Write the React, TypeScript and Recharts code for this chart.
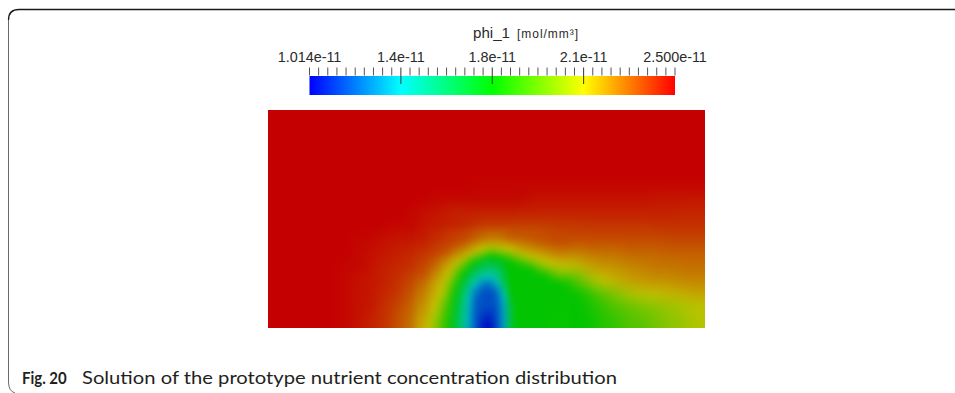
import {
  ScatterChart,
  Scatter,
  BarChart,
  Bar,
  XAxis,
  YAxis,
} from "recharts";

// phi_1 in units of 1e-11 mol/mm³.
// Coarse field: 32 columns (left -> right) x 16 rows (top -> bottom) over a 2 x 1 domain.
const FIELD: number[][] = [
  [2.50, 2.50, 2.50, 2.50, 2.50, 2.50, 2.50, 2.50, 2.50, 2.50, 2.50, 2.50, 2.50, 2.50, 2.50, 2.50, 2.50, 2.50, 2.50, 2.50, 2.50, 2.50, 2.50, 2.50, 2.50, 2.50, 2.50, 2.50, 2.50, 2.50, 2.50, 2.50],
  [2.50, 2.50, 2.50, 2.50, 2.50, 2.50, 2.50, 2.50, 2.50, 2.50, 2.50, 2.50, 2.50, 2.50, 2.50, 2.50, 2.50, 2.50, 2.50, 2.50, 2.50, 2.50, 2.50, 2.50, 2.50, 2.50, 2.50, 2.50, 2.50, 2.50, 2.50, 2.50],
  [2.50, 2.50, 2.50, 2.50, 2.50, 2.50, 2.50, 2.50, 2.50, 2.50, 2.50, 2.50, 2.50, 2.50, 2.50, 2.50, 2.50, 2.50, 2.50, 2.50, 2.50, 2.50, 2.50, 2.50, 2.50, 2.50, 2.50, 2.50, 2.50, 2.50, 2.50, 2.50],
  [2.50, 2.50, 2.50, 2.50, 2.50, 2.50, 2.50, 2.50, 2.50, 2.50, 2.50, 2.50, 2.50, 2.50, 2.50, 2.50, 2.50, 2.50, 2.50, 2.50, 2.50, 2.50, 2.50, 2.50, 2.50, 2.50, 2.50, 2.50, 2.50, 2.50, 2.50, 2.50],
  [2.50, 2.50, 2.50, 2.50, 2.50, 2.50, 2.50, 2.50, 2.50, 2.50, 2.50, 2.50, 2.50, 2.50, 2.50, 2.50, 2.50, 2.50, 2.50, 2.50, 2.50, 2.50, 2.50, 2.50, 2.50, 2.50, 2.50, 2.50, 2.50, 2.50, 2.50, 2.50],
  [2.50, 2.50, 2.50, 2.50, 2.50, 2.50, 2.50, 2.50, 2.50, 2.50, 2.50, 2.50, 2.50, 2.50, 2.50, 2.49, 2.49, 2.49, 2.49, 2.49, 2.49, 2.49, 2.49, 2.49, 2.49, 2.49, 2.49, 2.49, 2.49, 2.49, 2.49, 2.49],
  [2.50, 2.50, 2.50, 2.50, 2.50, 2.50, 2.50, 2.50, 2.50, 2.50, 2.50, 2.50, 2.49, 2.49, 2.49, 2.49, 2.49, 2.49, 2.49, 2.47, 2.47, 2.47, 2.47, 2.47, 2.47, 2.47, 2.47, 2.47, 2.46, 2.46, 2.46, 2.46],
  [2.50, 2.50, 2.50, 2.50, 2.50, 2.50, 2.50, 2.50, 2.50, 2.50, 2.49, 2.47, 2.46, 2.44, 2.44, 2.44, 2.44, 2.44, 2.44, 2.44, 2.44, 2.44, 2.44, 2.44, 2.44, 2.44, 2.44, 2.44, 2.44, 2.44, 2.43, 2.43],
  [2.50, 2.50, 2.50, 2.50, 2.50, 2.50, 2.50, 2.50, 2.50, 2.49, 2.49, 2.46, 2.45, 2.44, 2.43, 2.40, 2.39, 2.39, 2.38, 2.38, 2.38, 2.39, 2.39, 2.40, 2.40, 2.40, 2.40, 2.40, 2.41, 2.41, 2.41, 2.41],
  [2.50, 2.50, 2.50, 2.50, 2.50, 2.50, 2.49, 2.49, 2.47, 2.46, 2.46, 2.44, 2.41, 2.38, 2.35, 2.29, 2.26, 2.28, 2.31, 2.33, 2.35, 2.36, 2.36, 2.36, 2.36, 2.36, 2.36, 2.36, 2.36, 2.37, 2.37, 2.37],
  [2.50, 2.50, 2.50, 2.50, 2.50, 2.50, 2.49, 2.47, 2.46, 2.44, 2.43, 2.40, 2.36, 2.29, 2.19, 2.03, 1.91, 2.00, 2.12, 2.19, 2.23, 2.26, 2.26, 2.28, 2.29, 2.29, 2.31, 2.31, 2.31, 2.32, 2.32, 2.32],
  [2.50, 2.50, 2.50, 2.50, 2.50, 2.49, 2.49, 2.47, 2.44, 2.43, 2.41, 2.37, 2.28, 2.14, 1.87, 1.66, 1.61, 1.73, 1.80, 1.91, 2.04, 2.11, 2.14, 2.19, 2.22, 2.23, 2.25, 2.26, 2.28, 2.28, 2.29, 2.29],
  [2.50, 2.50, 2.50, 2.50, 2.50, 2.49, 2.47, 2.46, 2.44, 2.41, 2.37, 2.31, 2.19, 1.98, 1.65, 1.40, 1.37, 1.69, 1.76, 1.76, 1.78, 1.85, 1.90, 2.04, 2.13, 2.17, 2.20, 2.22, 2.23, 2.23, 2.25, 2.25],
  [2.50, 2.50, 2.50, 2.50, 2.50, 2.49, 2.47, 2.46, 2.43, 2.40, 2.34, 2.25, 2.14, 1.85, 1.51, 1.21, 1.19, 1.58, 1.76, 1.76, 1.76, 1.76, 1.76, 1.83, 1.93, 2.01, 2.08, 2.11, 2.14, 2.16, 2.17, 2.19],
  [2.50, 2.50, 2.50, 2.50, 2.50, 2.49, 2.47, 2.46, 2.41, 2.37, 2.31, 2.22, 2.07, 1.78, 1.45, 1.18, 1.16, 1.49, 1.76, 1.76, 1.76, 1.76, 1.76, 1.79, 1.85, 1.91, 1.95, 1.99, 2.02, 2.05, 2.08, 2.11],
  [2.50, 2.50, 2.50, 2.50, 2.50, 2.49, 2.47, 2.44, 2.41, 2.35, 2.29, 2.18, 1.99, 1.74, 1.43, 1.14, 1.11, 1.47, 1.76, 1.76, 1.76, 1.77, 1.76, 1.77, 1.82, 1.86, 1.91, 1.93, 1.98, 2.02, 2.05, 2.10],
];

// Finer read-out around the low-concentration spot: coarse columns 11-21,
// coarse rows 9-15, each coarse cell split 2 x 2 (22 columns x 14 rows).
const PATCH_COL0 = 11;
const PATCH_ROW0 = 9;
const PATCH_SPLIT = 2;
const PATCH: number[][] = [
  [2.46, 2.44, 2.43, 2.42, 2.40, 2.39, 2.38, 2.37, 2.35, 2.33, 2.31, 2.31, 2.32, 2.35, 2.35, 2.35, 2.35, 2.35, 2.36, 2.37, 2.37, 2.37],
  [2.44, 2.43, 2.41, 2.39, 2.38, 2.36, 2.34, 2.31, 2.26, 2.22, 2.20, 2.20, 2.22, 2.24, 2.26, 2.28, 2.30, 2.32, 2.33, 2.34, 2.35, 2.35],
  [2.42, 2.40, 2.39, 2.37, 2.35, 2.30, 2.26, 2.21, 2.16, 2.11, 2.04, 2.05, 2.10, 2.13, 2.17, 2.20, 2.22, 2.24, 2.26, 2.28, 2.29, 2.30],
  [2.40, 2.38, 2.36, 2.33, 2.28, 2.22, 2.17, 2.10, 1.98, 1.87, 1.76, 1.77, 1.85, 1.92, 2.01, 2.09, 2.14, 2.16, 2.18, 2.21, 2.23, 2.23],
  [2.39, 2.36, 2.33, 2.27, 2.21, 2.15, 2.04, 1.87, 1.74, 1.68, 1.65, 1.68, 1.71, 1.76, 1.81, 1.88, 1.96, 2.05, 2.10, 2.14, 2.16, 2.17],
  [2.37, 2.34, 2.28, 2.22, 2.16, 2.03, 1.85, 1.72, 1.65, 1.56, 1.53, 1.56, 1.68, 1.76, 1.76, 1.76, 1.76, 1.87, 1.93, 1.99, 2.04, 2.08],
  [2.35, 2.30, 2.24, 2.18, 2.11, 1.93, 1.76, 1.64, 1.52, 1.43, 1.42, 1.46, 1.64, 1.76, 1.76, 1.76, 1.76, 1.76, 1.76, 1.85, 1.90, 1.93],
  [2.31, 2.26, 2.20, 2.15, 2.02, 1.84, 1.68, 1.53, 1.39, 1.27, 1.24, 1.36, 1.59, 1.76, 1.76, 1.76, 1.76, 1.76, 1.76, 1.76, 1.76, 1.80],
  [2.29, 2.23, 2.18, 2.13, 1.96, 1.79, 1.62, 1.45, 1.27, 1.18, 1.17, 1.23, 1.45, 1.76, 1.76, 1.76, 1.76, 1.76, 1.76, 1.76, 1.76, 1.76],
  [2.27, 2.21, 2.16, 2.08, 1.91, 1.74, 1.57, 1.40, 1.21, 1.16, 1.15, 1.19, 1.37, 1.72, 1.76, 1.76, 1.76, 1.76, 1.76, 1.76, 1.76, 1.77],
  [2.25, 2.20, 2.14, 2.02, 1.87, 1.71, 1.55, 1.38, 1.19, 1.17, 1.16, 1.18, 1.34, 1.67, 1.76, 1.76, 1.76, 1.76, 1.76, 1.76, 1.76, 1.77],
  [2.23, 2.18, 2.12, 1.98, 1.84, 1.69, 1.52, 1.35, 1.19, 1.15, 1.13, 1.16, 1.32, 1.62, 1.76, 1.76, 1.76, 1.76, 1.76, 1.76, 1.76, 1.77],
  [2.21, 2.16, 2.07, 1.94, 1.82, 1.67, 1.51, 1.35, 1.18, 1.11, 1.08, 1.16, 1.32, 1.62, 1.76, 1.76, 1.76, 1.76, 1.76, 1.76, 1.77, 1.77],
  [2.19, 2.14, 2.04, 1.92, 1.80, 1.66, 1.51, 1.34, 1.18, 1.07, 1.03, 1.15, 1.31, 1.62, 1.76, 1.76, 1.76, 1.76, 1.76, 1.77, 1.77, 1.77],
];

const CBAR_MIN = 1.014;
const CBAR_MAX = 2.5;
const MAJOR_TICKS = [1.014, 1.3855, 1.757, 2.1285, 2.5];
const MAJOR_LABELS = ["1.014e-11", "1.4e-11", "1.8e-11", "2.1e-11", "2.500e-11"];
const MINOR_PER_MAJOR = 10;

// rainbow colour map (ParaView style)
const CMAP_POS = [0, 0.25, 0.5, 0.75, 1];
const CMAP_RGB = [
  [0, 0, 255],
  [0, 255, 255],
  [0, 255, 0],
  [255, 255, 0],
  [255, 0, 0],
];
const SURFACE_SHADE = 0.77;

const W = 955;
const H = 393;
const PLOT = { left: 268, top: 110, width: 437, height: 218 };
const COLS = FIELD[0].length;
const ROWS = FIELD.length;
const CELL_W = PLOT.width / COLS;
const CELL_H = PLOT.height / ROWS;
const EDGE_PAD = 20;

function colorFor(v: number, shade = 1) {
  const t = Math.min(1, Math.max(0, (v - CBAR_MIN) / (CBAR_MAX - CBAR_MIN)));
  let i = 0;
  while (i < CMAP_POS.length - 2 && t > CMAP_POS[i + 1]) i++;
  const f = (t - CMAP_POS[i]) / (CMAP_POS[i + 1] - CMAP_POS[i]);
  const a = CMAP_RGB[i];
  const b = CMAP_RGB[i + 1];
  const c = a.map((av, k) => Math.round((av + (b[k] - av) * f) * shade));
  return `rgb(${c[0]},${c[1]},${c[2]})`;
}

const cells = FIELD.flatMap((row, r) =>
  row.map((v, c) => ({
    x: ((c + 0.5) / COLS) * 2,
    y: 1 - (r + 0.5) / ROWS,
    v,
    k: 1,
    padL: c === 0,
    padR: c === COLS - 1,
    padT: r === 0,
    padB: r === ROWS - 1,
  }))
);

const patchCells = PATCH.flatMap((row, r) =>
  row.map((v, c) => ({
    x: ((PATCH_COL0 + (c + 0.5) / PATCH_SPLIT) / COLS) * 2,
    y: 1 - (PATCH_ROW0 + (r + 0.5) / PATCH_SPLIT) / ROWS,
    v,
    k: 1 / PATCH_SPLIT,
    padL: false,
    padR: false,
    padT: false,
    padB: r === PATCH.length - 1,
  }))
);

const colorbar = [{ name: "phi_1", range: [CBAR_MIN, CBAR_MAX] }];

const tickValues: number[] = [];
for (let i = 0; i < MAJOR_TICKS.length - 1; i++) {
  for (let k = 0; k < MINOR_PER_MAJOR; k++) {
    tickValues.push(
      MAJOR_TICKS[i] + ((MAJOR_TICKS[i + 1] - MAJOR_TICKS[i]) * k) / MINOR_PER_MAJOR
    );
  }
}
tickValues.push(MAJOR_TICKS[MAJOR_TICKS.length - 1]);

function renderCell(props: any) {
  const { cx, cy, payload } = props;
  if (cx == null || cy == null) return <g />;
  const hw = (CELL_W * payload.k) / 2 + 0.4;
  const hh = (CELL_H * payload.k) / 2 + 0.4;
  let x0 = cx - hw;
  let x1 = cx + hw;
  let y0 = cy - hh;
  let y1 = cy + hh;
  if (payload.padL) x0 -= EDGE_PAD;
  if (payload.padR) x1 += EDGE_PAD;
  if (payload.padT) y0 -= EDGE_PAD;
  if (payload.padB) y1 += EDGE_PAD;
  return (
    <rect
      x={x0}
      y={y0}
      width={x1 - x0}
      height={y1 - y0}
      fill={colorFor(payload.v, SURFACE_SHADE)}
      shapeRendering="crispEdges"
    />
  );
}

function ColorbarTick(props: any) {
  const { x, y, index } = props;
  const major = index % MINOR_PER_MAJOR === 0;
  const inner = major && index > 0 && index < tickValues.length - 1;
  const label = major ? MAJOR_LABELS[index / MINOR_PER_MAJOR] : null;
  return (
    <g>
      <line
        x1={x}
        x2={x}
        y1={y - 8.5}
        y2={inner ? y + 8 : y - 0.5}
        stroke={inner ? "#333" : "#555"}
        strokeWidth={1}
      />
      {label && (
        <text
          x={x}
          y={y - 14.5}
          textAnchor="middle"
          fontFamily="'Liberation Sans', Arial, sans-serif"
          fontSize={14.4}
          fill="#2a2a2a"
        >
          {label}
        </text>
      )}
    </g>
  );
}

const fieldClip = `inset(${PLOT.top}px ${W - PLOT.left - PLOT.width}px ${
  H - PLOT.top - PLOT.height
}px ${PLOT.left}px)`;
const fieldMargin = {
  top: PLOT.top,
  left: PLOT.left,
  right: W - PLOT.left - PLOT.width,
  bottom: H - PLOT.top - PLOT.height,
};

function FieldLayer({ data, blur }: { data: any[]; blur: number }) {
  return (
    <div
      style={{
        position: "absolute",
        left: 0,
        top: 0,
        width: W,
        height: H,
        filter: `blur(${blur}px)`,
        clipPath: fieldClip,
      }}
    >
      <ScatterChart width={W} height={H} margin={fieldMargin}>
        <XAxis type="number" dataKey="x" domain={[0, 2]} hide />
        <YAxis type="number" dataKey="y" domain={[0, 1]} hide />
        <Scatter data={data} shape={renderCell} isAnimationActive={false} />
      </ScatterChart>
    </div>
  );
}

export default function App() {
  return (
    <div
      style={{
        position: "absolute",
        left: 0,
        top: 0,
        width: W,
        height: H,
        background: "#fff",
        overflow: "hidden",
      }}
    >
      <svg width={1} height={1} style={{ position: "absolute", left: -10, top: -10 }}>
        <defs>
          <linearGradient id="cbarGrad" x1="0" x2="1" y1="0" y2="0">
            {CMAP_POS.map((p, i) => (
              <stop
                key={p}
                offset={p}
                stopColor={`rgb(${CMAP_RGB[i].join(",")})`}
              />
            ))}
          </linearGradient>
        </defs>
      </svg>

      {/* frame + text */}
      <svg width={W} height={H} style={{ position: "absolute", left: 0, top: 0 }}>
        <path d="M 8.5 20 Q 8.5 9.5 19 9.5 L 955 9.5" fill="none" stroke="#1a1a1a" strokeWidth={1.3} />
        <path d="M 8.5 20 L 8.5 382 Q 8.5 391 15 393" fill="none" stroke="#6a6a6a" strokeWidth={1} />
        <text
          x={473}
          y={37.5}
          fontFamily="'Liberation Sans', Arial, sans-serif"
          fontSize={14}
          fill="#2a2a2a"
          textLength={37}
          lengthAdjust="spacingAndGlyphs"
        >
          phi_1
        </text>
        <text
          x={517}
          y={37.5}
          fontFamily="'Liberation Sans', Arial, sans-serif"
          fontSize={12}
          fill="#2a2a2a"
          textLength={61}
          lengthAdjust="spacing"
        >
          [mol/mm³]
        </text>
        <text
          x={22}
          y={383.5}
          fontFamily="Lato, 'Open Sans', sans-serif"
          fontWeight={700}
          fontSize={17.5}
          fill="#231f20"
          textLength={44.7}
          lengthAdjust="spacingAndGlyphs"
        >
          Fig. 20
        </text>
        <text
          x={82}
          y={383.5}
          fontFamily="Lato, 'Open Sans', sans-serif"
          fontSize={17.5}
          fill="#231f20"
          textLength={535}
          lengthAdjust="spacingAndGlyphs"
        >
          Solution of the prototype nutrient concentration distribution
        </text>
      </svg>

      {/* solution field: coarse read-out, then the finer patch on top */}
      <FieldLayer data={cells} blur={6.5} />
      <FieldLayer data={patchCells} blur={3.5} />

      {/* colour bar */}
      <div style={{ position: "absolute", left: 0, top: 0 }}>
        <BarChart
          width={W}
          height={110}
          data={colorbar}
          layout="vertical"
          barCategoryGap={0}
          margin={{ top: 46, left: 309.5, right: W - 675, bottom: 15 }}
        >
          <YAxis type="category" dataKey="name" hide />
          <Bar
            dataKey="range"
            fill="url(#cbarGrad)"
            isAnimationActive={false}
          />
          <XAxis
            type="number"
            orientation="top"
            domain={[CBAR_MIN, CBAR_MAX]}
            ticks={tickValues}
            interval={0}
            tick={ColorbarTick}
            tickLine={false}
            axisLine={false}
            tickSize={0}
            tickMargin={0}
            height={30}
          />
        </BarChart>
      </div>
    </div>
  );
}
